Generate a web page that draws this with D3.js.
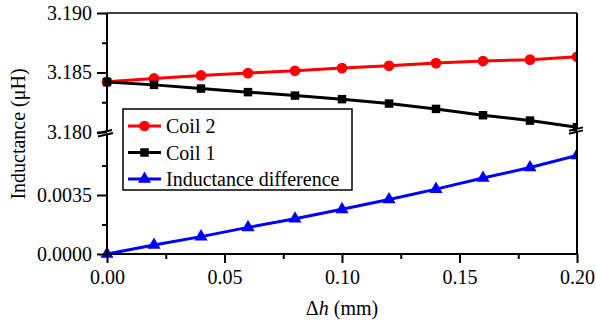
<!DOCTYPE html>
<html><head><meta charset="utf-8">
<script src="https://cdn.jsdelivr.net/npm/d3@7"></script>
<style>
body{margin:0;background:#fff;}
</style></head>
<body><svg id="c" width="596" height="324"></svg>
<script>
// ---- data ----
const dh = [0, 0.02, 0.04, 0.06, 0.08, 0.10, 0.12, 0.14, 0.16, 0.18, 0.20];
const coil2 = [3.18422, 3.18450, 3.18475, 3.18495, 3.18514, 3.18537, 3.18556, 3.18579, 3.18596, 3.18608, 3.18632];
const coil1 = [3.18420, 3.18396, 3.18365, 3.18335, 3.18306, 3.18276, 3.18239, 3.18194, 3.18141, 3.18096, 3.18040];
const diff  = [0, 0.00053, 0.00103, 0.00158, 0.00209, 0.00265, 0.00323, 0.00385, 0.00451, 0.00513, 0.00585];
const xTicks = [0, 0.05, 0.10, 0.15, 0.20];
const xMinor = [0.025, 0.075, 0.125, 0.175];
const yTopTicks = [3.180, 3.185, 3.190];
const yTopMinor = [3.1825, 3.1875];
const yBotTicks = [0, 0.0035];
const yBotMinor = [0.00175, 0.00525];
const legendNames = ["Coil 2", "Coil 1", "Inductance difference"];

// ---- layout ----
const FONT = "Tinos, \"Times New Roman\", \"Liberation Serif\", \"DejaVu Serif\", \"Noto Serif\", serif";
const L = 107, R = 577, T = 13, TB = 132, BT = 136, B = 254;
const svg = d3.select("#c").attr("font-family", FONT);
const x = d3.scaleLinear().domain([0, 0.20]).range([L, R]);
const yTop = d3.scaleLinear().domain([3.180, 3.190]).range([TB, T]);
const yBot = d3.scaleLinear().domain([0, 0.007]).range([B, BT]);

svg.append("defs").append("clipPath").attr("id", "clip")
  .append("rect").attr("x", 95).attr("y", 0).attr("width", R - 95).attr("height", 324);

const plot = svg.append("g").attr("clip-path", "url(#clip)");

function series(vals, y, color, shape) {
  const pts = dh.map((d, i) => [x(d), y(vals[i])]);
  plot.append("path").attr("d", d3.line()(pts)).attr("fill", "none")
    .attr("stroke", color).attr("stroke-width", 3);
  const sym = d3.symbol().type(shape).size(shape === d3.symbolTriangle ? 75 : (shape === d3.symbolSquare ? 72 : 90));
  plot.selectAll(null).data(pts).enter().append("path")
    .attr("d", sym).attr("transform", p => `translate(${p[0]},${p[1]})`)
    .attr("fill", color);
}
series(coil2, yTop, "#ff0000", d3.symbolCircle);
series(coil1, yTop, "#000000", d3.symbolSquare);
series(diff, yBot, "#0000ff", d3.symbolTriangle);

// ---- axes ----
const fs = "20px";
const ax = svg.append("g").attr("transform", `translate(0,${B})`).call(
  d3.axisBottom(x).tickValues(xTicks).tickFormat(d3.format(".2f")).tickSize(9).tickPadding(7));
ax.attr("font-family", FONT);
ax.select(".domain").remove();
ax.selectAll("line").attr("stroke-width", 2);
ax.selectAll("text").attr("font-size", fs).attr("font-family", FONT).attr("fill", "#000");
const axm = svg.append("g").attr("transform", `translate(0,${B})`).call(
  d3.axisBottom(x).tickValues(xMinor).tickFormat("").tickSize(5));
axm.select(".domain").remove();
axm.selectAll("line").attr("stroke-width", 2);

function leftAxis(y, major, minor, fmt) {
  const g = svg.append("g").attr("transform", `translate(${L},0)`).call(
    d3.axisLeft(y).tickValues(major).tickFormat(fmt).tickSize(10).tickPadding(5));
  g.attr("font-family", FONT);
  g.select(".domain").remove();
  g.selectAll("line").attr("stroke-width", 2);
  g.selectAll("text").attr("font-size", fs).attr("font-family", FONT).attr("fill", "#000");
  const m = svg.append("g").attr("transform", `translate(${L},0)`).call(
    d3.axisLeft(y).tickValues(minor).tickFormat("").tickSize(5));
  m.select(".domain").remove();
  m.selectAll("line").attr("stroke-width", 2);
}
leftAxis(yTop, yTopTicks, yTopMinor, d3.format(".3f"));
leftAxis(yBot, yBotTicks, yBotMinor, d3.format(".4f"));

// frame lines
const ln = (x1, y1, x2, y2, w) => svg.append("line").attr("x1", x1).attr("y1", y1)
  .attr("x2", x2).attr("y2", y2).attr("stroke", "#000").attr("stroke-width", w);
ln(L, T, L, 130.5, 2);
ln(L, 135, L, B + 1, 2);
ln(L - 1, B, R + 1, B, 2);
ln(L, T, R, T, 1.5);
ln(R, T, R, 128, 2);
ln(R, 132, R, B + 1, 2);
// break marks
ln(97, 133.5, 112, 130, 2);
ln(98, 136.5, 113, 133, 2);
ln(569, 130.8, 583, 127.4, 2);
ln(569, 133.8, 583, 130.4, 2);

// ---- labels ----
svg.append("text").attr("x", x(0.10)).attr("y", 315).attr("text-anchor", "middle")
  .attr("font-size", fs).attr("font-family", FONT)
  .html('Δ<tspan font-style="italic">h</tspan> (mm)');
svg.append("text").attr("transform", "translate(25,134) rotate(-90)")
  .attr("text-anchor", "middle").attr("font-size", fs).attr("font-family", FONT)
  .text("Inductance (μH)");

// ---- legend ----
const lg = svg.append("g");
lg.append("rect").attr("x", 123).attr("y", 109).attr("width", 229).attr("height", 81)
  .attr("fill", "#fff").attr("stroke", "#000").attr("stroke-width", 1.5);
const lcol = ["#ff0000", "#000000", "#0000ff"];
const lsym = [d3.symbolCircle, d3.symbolSquare, d3.symbolTriangle];
legendNames.forEach((n, i) => {
  const yy = 126 + i * 26.5;
  lg.append("line").attr("x1", 128).attr("x2", 161).attr("y1", yy).attr("y2", yy)
    .attr("stroke", lcol[i]).attr("stroke-width", 3);
  lg.append("path").attr("d", d3.symbol().type(lsym[i]).size(i === 2 ? 75 : (i === 1 ? 72 : 90))())
    .attr("transform", `translate(144.5,${yy})`).attr("fill", lcol[i]);
  lg.append("text").attr("x", 166).attr("y", yy + 7).attr("font-size", fs)
    .attr("font-family", FONT).text(n);
});
</script></body></html>
